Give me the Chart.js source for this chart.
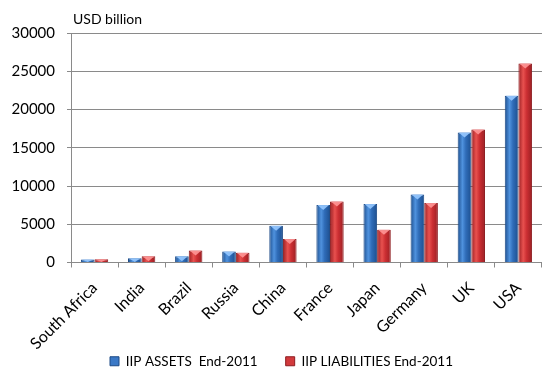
<!DOCTYPE html>
<html>
<head>
<meta charset="utf-8">
<script src="https://cdn.jsdelivr.net/npm/chart.js@4"></script>
<style>
  html, body { margin: 0; padding: 0; background: #fff; }
  #wrap { width: 543px; height: 371px; }
</style>
</head>
<body>
<div id="wrap"><canvas id="myChart"></canvas></div>
<script>
const countries = ['South Africa', 'India', 'Brazil', 'Russia', 'China', 'France', 'Japan', 'Germany', 'UK', 'USA'];
const assets = [400, 570, 830, 1440, 4820, 7530, 7660, 8880, 17000, 21800];
const liabilities = [420, 830, 1570, 1270, 3070, 7960, 4290, 7790, 17400, 26000];
const yTicks = [0, 5000, 10000, 15000, 20000, 25000, 30000];

const FONT = 'Lato, "Open Sans", sans-serif';
const CAT_PCT = 0.58;

// cylinder-like shading across each bar
let shade = (c, edge, mid, light) => {
  const chart = c.chart;
  const xs = chart.scales.x;
  if (!xs || c.dataIndex === undefined) return mid;
  const catW = xs.width / countries.length;
  const barW = catW * CAT_PCT / 2;
  const center = xs.getPixelForValue(c.dataIndex);
  const left = c.datasetIndex === 0 ? center - barW : center;
  const g = chart.ctx.createLinearGradient(left, 0, left + barW, 0);
  g.addColorStop(0, edge);
  g.addColorStop(0.35, light);
  g.addColorStop(0.6, mid);
  g.addColorStop(1, edge);
  return g;
};

// let the slanted country names run down past the legend's top,
// and nudge the legend a little right/down
const overlap = {
  id: 'overlap',
  afterLayout(chart) {
    chart.scales.x.bottom = chart.height;
    const lg = chart.legend;
    lg.left += 10; lg.right += 10;
    lg.top += 7; lg.bottom += 7;
    lg.adjustHitBoxes();
  }
};

// "USD billion" over the value axis + small bevel on bar tops
const extras = {
  id: 'extras',
  afterDatasetsDraw(chart) {
    const ctx = chart.ctx;
    const tops = ['rgba(150,200,255,0.9)', 'rgba(255,150,150,0.9)'];
    chart.data.datasets.forEach((ds, i) => {
      chart.getDatasetMeta(i).data.forEach(bar => {
        const l = bar.x - bar.width / 2, r = bar.x + bar.width / 2;
        const h = Math.min(5, bar.base - bar.y);
        ctx.save();
        ctx.fillStyle = tops[i];
        ctx.beginPath();
        ctx.moveTo(l + 1, bar.y);
        ctx.lineTo(r - 1, bar.y);
        ctx.lineTo(bar.x, bar.y + h);
        ctx.closePath();
        ctx.fill();
        ctx.restore();
      });
    });
    ctx.save();
    ctx.font = '14px ' + FONT;
    ctx.fillStyle = '#000';
    ctx.textBaseline = 'alphabetic';
    ctx.fillText('USD billion', chart.chartArea.left + 2, 24);
    ctx.restore();
  }
};

const ctx = document.getElementById('myChart');
const dataset = {
  labels: countries,
  datasets: [{
      label: 'IIP ASSETS  End-2011',
      data: assets,
      backgroundColor: c => shade(c, '#1d4f8f', '#2f6cb8', '#4f92de'),
      borderColor: '#1c4a86',
      borderWidth: 1,
      categoryPercentage: CAT_PCT,
      barPercentage: 1
  }, {
      label: 'IIP LIABILITIES End-2011',
      data: liabilities,
      backgroundColor: c => shade(c, '#9a1f23', '#cc2f33', '#e8514f'),
      borderColor: '#8e1c20',
      borderWidth: 1,
      categoryPercentage: CAT_PCT,
      barPercentage: 1
  }]
};

const config = {
  type: 'bar',
  data: dataset,
  plugins: [overlap, extras],
  options: {
    responsive: true,
    maintainAspectRatio: false,
    animation: false,
    layout: { padding: { top: 33, left: 0, right: 0, bottom: 0 } },
    plugins: {
      tooltip: { enabled: false },
      legend: {
        position: 'bottom',
        labels: {
          color: '#000',
          font: { family: FONT, size: 13.5 },
          boxWidth: 9,
          boxHeight: 9,
          padding: 28,
          generateLabels: chart => [
            { text: chart.data.datasets[0].label, fillStyle: '#3a78c6', strokeStyle: '#1c4a86', lineWidth: 1, datasetIndex: 0 },
            { text: chart.data.datasets[1].label, fillStyle: '#d23a3c', strokeStyle: '#8e1c20', lineWidth: 1, datasetIndex: 1 }
          ]
        }
      }
    },
    scales: {
      x: {
        grid: { display: true, drawOnChartArea: false, offset: true, tickLength: 5, color: '#8a8a8a' },
        border: { color: '#8a8a8a' },
        ticks: {
          color: '#000',
          font: { family: FONT, size: 16 },
          maxRotation: 45, minRotation: 45,
          padding: 11
        },
        afterFit: s => { s.height = 57; }
      },
      y: {
        min: 0,
        max: 30000,
        afterBuildTicks: s => { s.ticks = yTicks.map(v => ({ value: v })); },
        grid: { color: '#8a8a8a', tickLength: 4 },
        border: { color: '#8a8a8a' },
        ticks: {
          color: '#000',
          font: { family: FONT, size: 15 },
          padding: 12,
          callback: v => String(v)
        },
        afterFit: s => { s.width = 71; }
      }
    }
  }
};

const chart = new Chart(ctx, config);
</script>
</body>
</html>
